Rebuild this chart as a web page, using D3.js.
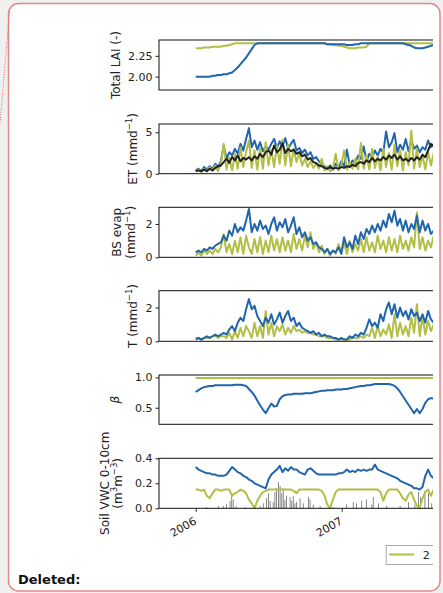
<!DOCTYPE html>
<html>
<head>
<meta charset="utf-8">
<script src="https://cdn.jsdelivr.net/npm/d3@7"></script>
<style>
  body { margin: 0; background: #f0f0f0; }
  svg { display: block; }
  text { font-family: "DejaVu Sans", sans-serif; fill: #222; }
</style>
</head>
<body>
<div id="chart"></div>
<script>
// weekly samples starting 1 Jan 2006
const startDate = Date.UTC(2006, 0, 1);
const stepDays = 7;

const laiBlue = [2.00,2.00,2.00,2.00,2.00,2.00,2.01,2.01,2.02,2.02, 2.03,2.03,2.04,2.05,2.08,2.11,2.15,2.19,2.23,2.28,
  2.33,2.38,2.40,2.40,2.40,2.40,2.40,2.40,2.40,2.40, 2.40,2.40,2.40,2.40,2.40,2.40,2.40,2.40,2.40,2.40,
  2.40,2.40,2.40,2.40,2.40,2.40,2.40,2.39,2.39,2.39, 2.39,2.39,2.39,2.39,2.38,2.38,2.38,2.39,2.39,2.40,
  2.40,2.40,2.40,2.40,2.40,2.40,2.40,2.40,2.40,2.40, 2.40,2.40,2.40,2.40,2.40,2.39,2.38,2.37,2.35,2.34,
  2.34,2.34,2.35,2.36,2.37,2.38];
const laiGreen = [2.34,2.34,2.34,2.35,2.35,2.35,2.36,2.36,2.36,2.36, 2.37,2.37,2.38,2.39,2.40,2.40,2.40,2.40,2.40,2.40,
  2.40,2.40,2.40,2.40,2.40,2.40,2.40,2.40,2.40,2.40, 2.40,2.40,2.40,2.40,2.40,2.40,2.40,2.40,2.40,2.40,
  2.40,2.40,2.40,2.40,2.40,2.40,2.40,2.39,2.39,2.38, 2.38,2.37,2.37,2.36,2.35,2.34,2.34,2.34,2.35,2.35,
  2.35,2.36,2.40,2.40,2.40,2.40,2.40,2.40,2.40,2.40, 2.40,2.40,2.40,2.40,2.40,2.40,2.40,2.40,2.40,2.40,
  2.40,2.40,2.40,2.40,2.40,2.40];

const etBlue = [0.4,0.6,0.3,0.8,0.5,0.9,0.6,1.2,0.8,1.5, 3.4,1.8,2.6,2.2,3.0,2.4,3.6,2.8,4.2,5.5,
  3.2,4.0,2.9,3.8,2.7,3.3,2.9,3.6,4.2,3.1, 3.9,3.3,4.3,3.0,3.6,4.1,2.8,3.1,2.5,2.9,
  2.2,2.6,1.8,2.0,1.5,1.2,0.9,0.6,1.0,0.5, 1.2,0.7,1.5,0.9,2.9,1.0,1.6,1.3,2.2,1.8,
  3.3,1.5,2.4,2.0,2.8,2.2,3.0,2.5,5.1,3.2, 3.8,4.9,2.6,3.5,2.9,4.2,2.7,4.0,3.0,3.4,
  2.6,3.2,2.9,4.0,3.2,3.6];
const etGreen = [0.3,0.5,0.2,0.6,0.3,0.8,0.4,1.0,0.3,1.2, 3.6,0.5,2.0,0.4,2.4,0.6,3.2,0.8,2.6,4.0,
  0.7,2.8,0.5,3.1,0.6,3.8,1.0,2.9,0.8,3.4, 1.2,4.1,1.0,3.5,0.9,3.0,1.4,2.5,1.0,1.8,
  0.8,1.5,0.7,1.2,0.6,1.8,0.4,0.9,0.3,0.6, 2.4,0.4,1.0,2.8,0.5,1.4,0.6,1.8,0.5,3.7,
  0.6,2.3,0.5,3.0,0.7,2.1,0.4,3.0,0.8,2.5, 0.5,3.5,0.9,2.8,0.4,2.6,1.0,5.2,0.6,3.0,
  0.8,2.2,0.5,2.6,1.0,2.5];
const etBlack = [0.3,0.4,0.3,0.5,0.3,0.6,0.4,0.7,0.9,1.0, 1.4,1.8,1.3,2.0,1.6,2.2,1.5,1.9,1.7,2.0,
  1.6,2.1,1.8,2.4,2.0,2.6,2.8,2.3,3.4,2.6, 2.9,3.7,2.5,3.0,2.7,2.9,2.4,2.6,2.1,2.3,
  1.7,1.9,1.4,1.3,1.0,0.9,0.7,0.6,0.8,0.6, 0.7,0.6,0.8,0.7,0.9,0.8,1.1,0.9,1.3,1.4,
  1.2,1.6,1.4,1.9,1.5,1.8,1.6,2.0,1.7,2.2, 1.9,2.3,1.7,2.1,1.6,1.8,1.5,1.9,1.6,2.0,
  1.7,2.3,2.0,2.8,3.6,3.3];

const bsBlue = [0.3,0.4,0.3,0.5,0.4,0.6,0.5,0.7,0.8,0.9, 1.3,1.0,1.6,1.3,2.0,1.5,1.8,1.6,2.2,2.9,
  1.5,2.0,1.6,2.2,1.7,1.9,1.4,2.0,2.4,1.6, 2.1,1.8,2.3,1.5,1.9,2.4,1.4,1.8,1.2,1.5,
  1.0,1.2,0.8,0.9,0.6,0.5,0.3,0.5,0.2,0.4, 0.3,0.6,0.2,1.2,0.6,0.9,0.5,1.3,0.8,1.5,
  1.1,1.7,1.4,1.9,1.5,2.0,1.6,2.2,1.8,2.6, 2.1,2.8,1.9,2.3,1.6,2.2,1.5,2.0,1.7,2.5,
  1.5,2.2,1.6,2.0,1.4,1.6];
const bsGreen = [0.1,0.3,0.1,0.4,0.2,0.4,0.2,0.5,0.3,0.6, 1.4,0.3,0.8,0.2,1.0,0.3,1.2,0.2,1.3,0.6,
  0.2,1.1,0.3,1.2,0.2,1.0,0.3,1.3,0.4,1.1, 0.3,1.2,0.4,1.0,0.3,1.4,0.5,1.1,0.4,1.3,
  0.6,1.5,0.5,0.9,0.3,0.7,0.2,0.5,0.1,0.4, 0.2,0.8,0.3,0.9,0.2,1.0,0.3,0.8,0.4,1.1,
  0.3,1.2,0.4,0.9,0.3,1.3,0.5,1.0,0.3,1.2, 0.4,1.1,0.3,1.3,0.5,1.0,0.4,1.2,0.6,2.7,
  0.5,1.2,0.4,1.0,0.6,1.3];

const tBlue = [0.1,0.2,0.1,0.2,0.3,0.2,0.3,0.4,0.3,0.4, 0.5,0.4,0.7,0.9,0.6,1.1,1.4,1.2,1.9,2.5,
  1.9,2.1,1.5,1.2,0.9,1.4,1.1,1.6,1.0,1.3, 1.7,1.1,1.5,1.8,1.2,1.4,0.9,1.1,0.8,0.7,
  0.6,0.5,0.6,0.4,0.5,0.3,0.4,0.3,0.3,0.2, 0.2,0.1,0.2,0.1,0.1,0.3,0.2,0.4,0.3,0.5,
  0.4,0.8,1.3,0.9,1.1,0.8,1.6,1.2,1.9,2.3, 1.6,2.2,1.4,2.0,1.5,1.8,1.3,1.9,1.5,1.7,
  1.2,1.6,1.1,1.8,1.3,1.1];
const tGreen = [0.2,0.2,0.1,0.2,0.2,0.2,0.3,0.3,0.2,0.3, 0.3,0.2,0.5,0.1,0.6,0.2,0.8,0.3,0.9,0.6,
  0.2,1.1,0.3,0.9,0.2,1.8,0.4,1.1,0.3,0.9, 0.6,1.0,0.4,0.8,0.5,0.9,0.6,0.7,0.5,0.6,
  0.5,0.5,0.4,0.4,0.3,0.3,0.3,0.2,0.2,0.2, 0.1,0.1,0.1,0.1,0.1,0.1,0.2,0.2,0.2,0.3,
  0.2,0.4,0.3,0.8,0.2,0.9,0.3,0.7,0.4,1.0, 0.2,1.6,0.3,1.1,0.4,0.9,0.3,1.4,0.5,2.2,
  0.3,1.5,0.4,1.2,0.6,1.0];

const betaBlue = [0.76,0.79,0.82,0.84,0.85,0.86,0.86,0.87,0.87,0.87, 0.87,0.87,0.87,0.87,0.88,0.88,0.88,0.87,0.86,0.81,
  0.76,0.70,0.62,0.54,0.47,0.41,0.49,0.57,0.52,0.53, 0.64,0.69,0.71,0.72,0.72,0.73,0.73,0.73,0.73,0.74,
  0.74,0.74,0.75,0.76,0.77,0.78,0.78,0.79,0.79,0.79, 0.80,0.80,0.80,0.81,0.81,0.82,0.83,0.84,0.85,0.86,
  0.86,0.87,0.87,0.88,0.89,0.89,0.89,0.89,0.89,0.89, 0.88,0.86,0.82,0.76,0.69,0.62,0.55,0.48,0.41,0.48,
  0.41,0.48,0.58,0.64,0.66,0.65];
const betaGreenDays = [0, 595];
const betaGreen = [0.99, 0.99];

const vwcBlue = [0.33,0.31,0.30,0.29,0.28,0.28,0.27,0.27,0.26,0.26, 0.26,0.27,0.30,0.33,0.31,0.29,0.28,0.26,0.25,0.23,
  0.22,0.20,0.19,0.18,0.17,0.16,0.23,0.27,0.29,0.31, 0.34,0.29,0.32,0.30,0.33,0.31,0.31,0.29,0.28,0.27,
  0.31,0.32,0.30,0.28,0.27,0.27,0.27,0.27,0.27,0.27, 0.27,0.28,0.28,0.29,0.31,0.29,0.30,0.29,0.31,0.30,
  0.31,0.30,0.31,0.31,0.35,0.31,0.30,0.29,0.28,0.27, 0.26,0.25,0.24,0.22,0.21,0.20,0.19,0.18,0.16,0.16,
  0.15,0.17,0.26,0.31,0.26,0.24];
const vwcGreen = [0.15,0.15,0.14,0.15,0.10,0.08,0.12,0.15,0.15,0.14, 0.15,0.15,0.15,0.10,0.12,0.13,0.15,0.14,0.12,0.07,
  0.04,0.00,0.06,0.10,0.13,0.14,0.15,0.15,0.15,0.15, 0.15,0.15,0.15,0.15,0.15,0.14,0.12,0.15,0.15,0.15,
  0.15,0.15,0.15,0.15,0.15,0.14,0.10,0.03,0.00,0.07, 0.13,0.15,0.15,0.15,0.15,0.15,0.15,0.15,0.15,0.15,
  0.15,0.15,0.15,0.15,0.15,0.15,0.13,0.06,0.12,0.15, 0.15,0.15,0.15,0.12,0.08,0.06,0.11,0.13,0.07,0.02,
  0.00,0.08,0.13,0.15,0.10,0.15];

// rain bars (day offset from 1 Jan 2006, height in panel units)
const rainDays = [27,57,69,77,86,90,94,101,123,161,169,177,182,186,194,198,202,207,211,215,219,223,227,236,240,244,248,252,
  261,269,282,286,294,311,344,377,394,402,415,427,440,444,457,477,511,532,548,557,562,573,582,590];
const rainBars = [0.01,0.02,0.02,0.03,0.06,0.10,0.07,0.02,0.01,0.02,0.04,0.08,0.12,0.06,0.05,0.13,0.16,0.21,0.18,0.12,0.16,0.07,0.10,0.09,0.06,0.10,0.04,0.05,
  0.08,0.04,0.09,0.07,0.03,0.02,0.01,0.03,0.05,0.04,0.06,0.07,0.03,0.09,0.04,0.02,0.02,0.05,0.03,0.13,0.09,0.14,0.12,0.04];

const yearTicks = [2006, 2007];
const legendLabels = ["2"];

const blue = "#2166ac", green = "#b2be46", black = "#222";

const W = 443, H = 593;
const svg = d3.select("#chart").append("svg").attr("width", W).attr("height", H);

// page box
svg.append("rect").attr("x", 8.5).attr("y", 3.5).attr("width", 431.5).attr("height", 587.5)
  .attr("rx", 10).attr("fill", "#fff").attr("stroke", "#e08a8c").attr("stroke-width", 1.5);
svg.append("line").attr("x1", 9.5).attr("y1", 12).attr("x2", 0).attr("y2", 124)
  .attr("stroke", "#e06066").attr("stroke-dasharray", "1,1.5");
svg.append("text").attr("x", 18).attr("y", 584).attr("font-weight", "bold")
  .attr("font-size", 13).style("fill", "#111").text("Deleted:");

svg.append("defs").append("clipPath").attr("id", "clip")
  .append("rect").attr("x", 0).attr("y", 0).attr("width", 433).attr("height", H);
const g = svg.append("g").attr("clip-path", "url(#clip)");

const dayToDate = d => new Date(startDate + d * 864e5);
const dates = laiBlue.map((_, i) => dayToDate(i * stepDays));

const x = d3.scaleUtc()
  .domain([new Date(Date.UTC(2006, 0, 1)), new Date(Date.UTC(2007, 0, 1))])
  .range([195.7, 341.7]);
const left = 159, right = 520;

// label x = baseline of the rotated text
const panels = [
  {top: 40, bot: 90, dom: [1.84, 2.44], ticks: [2.0, 2.25], fmt: ".2f",
   series: [[laiGreen, green], [laiBlue, blue]],
   label: [{x: 120, parts: [["Total LAI (-)"]]}]},
  {top: 124, bot: 173.7, dom: [0, 6], ticks: [0, 5], fmt: "d",
   series: [[etBlue, blue], [etGreen, green], [etBlack, black]],
   label: [{x: 137, parts: [["ET (mmd"], ["\u22121", "sup"], [")", "end"]]}]},
  {top: 207.3, bot: 257.3, dom: [0, 3], ticks: [0, 2], fmt: "d",
   series: [[bsGreen, green], [bsBlue, blue]],
   label: [{x: 121, parts: [["BS evap"]]}, {x: 135, parts: [["(mmd"], ["\u22121", "sup"], [")", "end"]]}]},
  {top: 290.7, bot: 341.3, dom: [0, 3], ticks: [0, 2], fmt: "d",
   series: [[tGreen, green], [tBlue, blue]],
   label: [{x: 137, parts: [["T (mmd"], ["\u22121", "sup"], [")", "end"]]}]},
  {top: 375, bot: 424.3, dom: [0.227, 1.04], ticks: [0.5, 1.0], fmt: ".1f",
   series: [[betaBlue, blue]], extra: [betaGreenDays, betaGreen, green],
   label: [{x: 119, parts: [["\u03b2", "it"]]}]},
  {top: 458.3, bot: 508.3, dom: [0, 0.4], ticks: [0, 0.2, 0.4], fmt: ".1f",
   series: [[vwcBlue, blue], [vwcGreen, green]], rain: true,
   label: [{x: 109, parts: [["Soil VWC 0-10cm"]]}, {x: 122, parts: [["(m"], ["3", "sup"], ["m", "end"], ["\u22123", "sup"], [")", "end"]]}]}
];

panels.forEach(p => {
  const y = d3.scaleLinear().domain(p.dom).range([p.bot, p.top]);
  const pg = g.append("g");

  if (p.rain) {
    pg.selectAll("line.rain").data(rainDays).join("line")
      .attr("x1", d => x(dayToDate(d))).attr("x2", d => x(dayToDate(d)))
      .attr("y1", y(0)).attr("y2", (d, i) => y(rainBars[i]))
      .attr("stroke", "#888").attr("stroke-width", 1);
  }
  if (p.extra) {
    const [ed, ev, ec] = p.extra;
    pg.append("path").datum(ed)
      .attr("d", d3.line().x(d => x(dayToDate(d))).y((d, i) => y(ev[i])))
      .attr("fill", "none").attr("stroke", ec).attr("stroke-width", 2);
  }
  p.series.forEach(([vals, col]) => {
    pg.append("path").datum(vals)
      .attr("d", d3.line().x((d, i) => x(dates[i])).y(d => y(d)))
      .attr("fill", "none").attr("stroke", col).attr("stroke-width", 2)
      .attr("stroke-linejoin", "round");
  });

  // frame
  pg.append("rect").attr("x", left).attr("y", p.top).attr("width", right - left).attr("height", p.bot - p.top)
    .attr("fill", "none").attr("stroke", "#111").attr("stroke-width", 1);

  const ax = pg.append("g").attr("transform", `translate(${left},0)`)
    .call(d3.axisLeft(y).tickValues(p.ticks).tickFormat(d3.format(p.fmt)).tickSize(3.5).tickPadding(3).tickSizeOuter(0));
  ax.select(".domain").remove();
  ax.selectAll("text").attr("font-size", 11).style("font-family", "DejaVu Sans").style("fill", "#222");
  ax.selectAll("line").attr("stroke", "#222");

  const cy = (p.top + p.bot) / 2;
  p.label.forEach(l => {
    const t = pg.append("text").attr("transform", `translate(${l.x},${cy}) rotate(-90)`)
      .attr("text-anchor", "middle").attr("font-size", 12);
    l.parts.forEach(([s, kind]) => {
      const ts = t.append("tspan").text(s);
      if (kind === "sup") ts.attr("font-size", 8.5).attr("dy", "-0.55em");
      if (kind === "end") ts.attr("dy", "0.4em");
      if (kind === "it") ts.attr("font-style", "italic");
    });
  });

  if (p.rain) {
    const xa = pg.append("g").attr("transform", `translate(0,${p.bot})`)
      .call(d3.axisBottom(x).tickValues(yearTicks.map(yr => new Date(Date.UTC(yr, 0, 1))))
        .tickFormat(d3.utcFormat("%Y")).tickSize(3.5).tickSizeOuter(0));
    xa.select(".domain").remove();
    xa.selectAll("line").attr("stroke", "#222");
    xa.selectAll("text").attr("font-size", 11).style("font-family", "DejaVu Sans").style("fill", "#222")
      .attr("text-anchor", "end").attr("dy", null).attr("y", 0)
      .attr("transform", "translate(1,15) rotate(-30)");
  }
});

// legend (cut off at the right edge)
const lg = g.append("g").attr("transform", "translate(385.7,545)");
lg.append("rect").attr("x", 0.5).attr("y", 0.5).attr("width", 80).attr("height", 19)
  .attr("fill", "#fff").attr("stroke", "#aaa").attr("stroke-width", 1);
legendLabels.forEach((lab, i) => {
  lg.append("line").attr("x1", 3.5).attr("x2", 28.5).attr("y1", 9.5).attr("y2", 9.5)
    .attr("stroke", green).attr("stroke-width", 2);
  lg.append("text").attr("x", 37).attr("y", 14).attr("font-size", 11).text(lab);
});
</script>
</body>
</html>
